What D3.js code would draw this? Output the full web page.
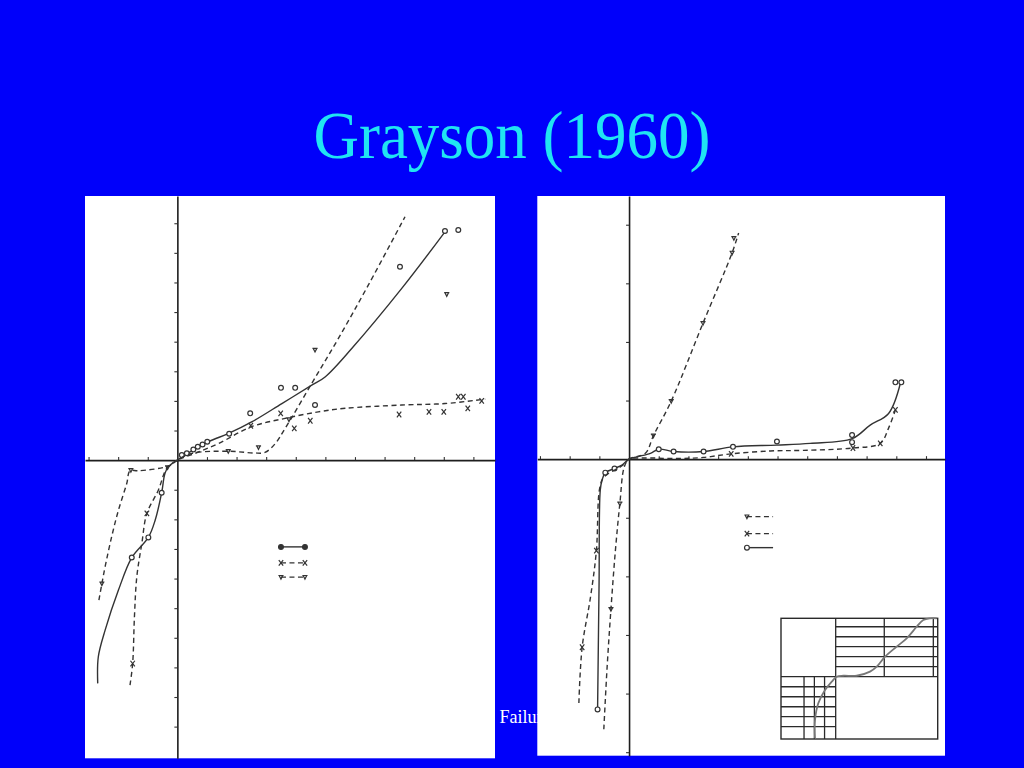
<!DOCTYPE html>
<html><head><meta charset="utf-8">
<script src="https://cdn.jsdelivr.net/npm/d3@7/dist/d3.min.js"></script>
<style>html,body{margin:0;padding:0;background:#0000fa;}svg{display:block;}</style>
</head><body>
<script>
// ---------- DATA (axis units: one tick = one unit) ----------
const title = "Grayson (1960)";
const footText = "Failure";

// Panel 1
const p1XTicks = [-3,-2,-1,1,2,3,4,5,6,7,8,9,10];
const p1YTicks = [-9,-8,-7,-6,-5,-4,-3,-2,-1,1,2,3,4,5,6,7,8];
const p1Solid = [[-2.69,-7.54],[-2.67,-6.64],[-2.44,-5.74],[-1.99,-4.39],[-1.54,-3.29],[-0.98,-2.61],[-0.75,-2.03],[-0.53,-1.10],[-0.42,-0.45],[-0.30,-0.22],[0,0],[0.3,0.2],[1.05,0.62],[1.73,0.9],[2.51,1.29],[3.53,1.91],[4.54,2.53],[4.99,2.81],[5.89,3.77],[7.58,5.80],[9.04,7.71]];
const p1Circles = [[0.15,0.17],[0.32,0.23],[0.54,0.36],[0.69,0.45],[0.85,0.53],[1.01,0.62],[1.75,0.89],[2.46,1.58],[3.50,2.44],[3.98,2.44],[4.65,1.86],[7.52,6.53],[9.04,7.74],[9.49,7.77],[-0.53,-1.10],[-0.98,-2.61],[-1.54,-3.29]];
const p1XDash = [[-1.60,-7.60],[-1.51,-6.87],[-1.45,-5.29],[-1.37,-3.94],[-1.20,-2.81],[-1.03,-1.80],[-0.64,-1.01],[-0.36,-0.28],[0,0],[0.6,0.23],[1.39,0.56],[2.51,1.13],[3.64,1.41],[4.76,1.63],[5.67,1.75],[7.58,1.86],[9.04,1.91],[10.4,2.06]];
const p1XMarks = [[2.48,1.16],[3.49,1.58],[3.95,1.07],[4.49,1.33],[7.49,1.54],[8.50,1.63],[9.00,1.63],[9.49,2.14],[9.66,2.14],[9.81,1.75],[10.28,2.00],[-1.03,-1.80],[-1.51,-6.87]];
const p1VDash = [[-2.65,-4.73],[-2.55,-4.17],[-2.44,-3.60],[-2.22,-2.59],[-1.99,-1.69],[-1.71,-0.79],[-1.60,-0.36],[-1.32,-0.36],[-0.30,-0.20],[0,0],[0.49,0.23],[1.72,0.30],[2.6,0.24],[2.96,0.26],[3.30,0.55],[3.64,1.07],[4.54,2.59],[5.44,4.11],[6.45,5.91],[7.69,8.22]];
const p1VMarks = [[1.72,0.30],[2.74,0.43],[3.77,1.37],[4.65,3.72],[9.10,5.60],[-1.57,-0.34],[-0.33,-0.25],[-2.55,-4.17]];

// Panel 2
const p2XTicks = [-3,-2,-1,1,2,3,4,5,6,7,8,9,10];
const p2YTicks = [-5,-4,-3,-2,-1,1,2,3,4];
const p2VDash = [[-0.85,-4.61],[-0.74,-3.56],[-0.61,-2.56],[-0.46,-1.56],[-0.31,-0.76],[-0.16,-0.13],[0,0],[0.55,0.1],[0.82,0.40],[1.42,0.99],[2.49,2.32],[3.47,3.52],[3.69,3.86]];
const p2VMarks = [[0.82,0.40],[1.42,0.99],[2.49,2.32],[3.47,3.52],[3.53,3.77],[-0.31,-0.76],[-0.61,-2.56]];
const p2Solid = [[-1.06,-4.27],[-1.01,-2.13],[-0.97,-0.53],[-0.91,-0.36],[-0.80,-0.23],[-0.49,-0.16],[-0.24,-0.10],[0,0],[0.27,0.04],[0.72,0.10],[1.00,0.17],[1.50,0.13],[2.51,0.13],[3.50,0.21],[4.98,0.24],[6.10,0.27],[7.51,0.35],[8.12,0.58],[8.74,0.78],[9.14,1.30]];
const p2Circles = [[1.00,0.17],[1.50,0.13],[2.51,0.13],[3.50,0.21],[4.98,0.30],[7.51,0.41],[7.51,0.29],[8.97,1.31],[9.17,1.31],[-0.49,-0.16],[-0.80,-0.23],[-1.06,-4.27]];
const p2XDash = [[-1.69,-4.16],[-1.58,-3.21],[-1.30,-2.36],[-1.10,-1.56],[-0.99,-0.50],[-0.85,-0.31],[-0.2,-0.1],[0,0],[0.5,0.02],[1.62,0.01],[2.51,0.03],[3.44,0.09],[4.76,0.14],[5.88,0.15],[7.54,0.19],[8.46,0.27],[8.74,0.53],[8.97,0.84]];
const p2XMarks = [[3.44,0.09],[7.54,0.19],[8.46,0.27],[8.97,0.84],[-1.10,-1.56],[-1.58,-3.21]];

// Inset (normalized 0..1)
const insetCurve = [[0.217,0.006],[0.217,0.157],[0.238,0.296],[0.281,0.406],[0.324,0.475],[0.355,0.516],[0.398,0.524],[0.483,0.524],[0.568,0.558],[0.611,0.599],[0.664,0.682],[0.738,0.765],[0.802,0.834],[0.866,0.930],[0.908,0.986],[0.951,1.0],[0.994,1.0]];
const insetMidX = 0.349, insetMidY = 0.516;
const insetTRh = [0.93,0.847,0.765,0.682,0.599];
const insetTRv = [0.659,0.972];
const insetBLh = [0.433,0.35,0.267,0.185,0.102];
const insetBLv = [0.147,0.213,0.278];

// ---------- DRAW ----------
const W=1024,H=768;
const svg=d3.select("body").append("svg").attr("width",W).attr("height",H);
svg.append("rect").attr("width",W).attr("height",H).attr("fill","#0000fa");

svg.append("text").attr("x",512).attr("y",0)
  .attr("transform","translate(0,158) scale(1,1.06)")
  .attr("text-anchor","middle").attr("font-family","'Liberation Serif','Times New Roman',serif")
  .attr("font-size",63).attr("fill","#20e4f2").text(title);

svg.append("text").attr("x",499.5).attr("y",723)
  .attr("font-family","'Liberation Serif','Times New Roman',serif")
  .attr("font-size",18).attr("fill","#ffffff").text(footText);

const INK="#333333";
const line=d3.line().curve(d3.curveCatmullRom.alpha(0.5));

function panel(box, xd, yd, xt, yt){
  const g=svg.append("g");
  g.append("rect").attr("x",box.x0).attr("y",box.y0).attr("width",box.x1-box.x0).attr("height",box.y1-box.y0).attr("fill","#ffffff");
  const x=d3.scaleLinear().domain(xd).range([box.x0,box.x1]);
  const y=d3.scaleLinear().domain(yd).range([box.y1,box.y0]);
  g.append("g").attr("transform",`translate(0,${y(0)})`)
    .call(d3.axisTop(x).tickValues(xt).tickSize(3).tickSizeOuter(0).tickFormat(""));
  g.append("g").attr("transform",`translate(${x(0)},0)`)
    .call(d3.axisLeft(y).tickValues(yt).tickSize(3).tickSizeOuter(0).tickFormat(""));
  g.selectAll(".domain").attr("stroke","#1e1e1e").attr("stroke-width",1.6);
  g.selectAll(".tick line").attr("stroke","#333").attr("stroke-width",1.1);
  return {g,x,y};
}

function path(P,data,dash){
  P.g.append("path").attr("d",line(data.map(d=>[P.x(d[0]),P.y(d[1])])))
    .attr("fill","none").attr("stroke",INK).attr("stroke-width",1.4)
    .attr("stroke-dasharray",dash?"5,3.5":null);
}
function circles(P,data,filled){
  P.g.selectAll(null).data(data).enter().append("circle")
    .attr("cx",d=>P.x(d[0])).attr("cy",d=>P.y(d[1])).attr("r",2.4)
    .attr("fill",filled?INK:"#fff").attr("stroke",INK).attr("stroke-width",1.2);
}
function xmarks(P,data){
  P.g.selectAll(null).data(data).enter().append("path")
    .attr("d",d=>{const cx=P.x(d[0]),cy=P.y(d[1]);return `M${cx-2.2},${cy-2.8}L${cx+2.2},${cy+2.8}M${cx+2.2},${cy-2.8}L${cx-2.2},${cy+2.8}`;})
    .attr("fill","none").attr("stroke",INK).attr("stroke-width",1.2);
}
function vmarks(P,data){
  P.g.selectAll(null).data(data).enter().append("path")
    .attr("d",d=>{const cx=P.x(d[0]),cy=P.y(d[1]);return `M${cx-2.6},${cy-1.6}L${cx+2.6},${cy-1.6}M${cx-1.8},${cy-1.6}L${cx},${cy+2}L${cx+1.8},${cy-1.6}`;})
    .attr("fill","none").attr("stroke",INK).attr("stroke-width",1.2);
}

// Panel 1
const P1=panel({x0:85,x1:495,y0:196,y1:758.3},[-3.12,10.73],[-10.07,8.92],p1XTicks,p1YTicks);
path(P1,p1Solid,false); circles(P1,p1Circles,false);
path(P1,p1XDash,true); xmarks(P1,p1XMarks);
path(P1,p1VDash,true); vmarks(P1,p1VMarks);
const L1x=[3.50,4.31], L1y=[-2.93,-3.47,-3.95];
path(P1,[[L1x[0],L1y[0]],[L1x[1],L1y[0]]],false); circles(P1,[[L1x[0],L1y[0]],[L1x[1],L1y[0]]],true);
path(P1,[[L1x[0],L1y[1]],[L1x[1],L1y[1]]],true); xmarks(P1,[[L1x[0],L1y[1]],[L1x[1],L1y[1]]]);
path(P1,[[L1x[0],L1y[2]],[L1x[1],L1y[2]]],true); vmarks(P1,[[L1x[0],L1y[2]],[L1x[1],L1y[2]]]);

// Panel 2
const P2=panel({x0:537.3,x1:945,y0:196,y1:755.7},[-3.09,10.64],[-5.06,4.49],p2XTicks,p2YTicks);
path(P2,p2VDash,true); vmarks(P2,p2VMarks);
path(P2,p2Solid,false); circles(P2,p2Circles,false);
path(P2,p2XDash,true); xmarks(P2,p2XMarks);
const L2x=[3.97,4.85], L2y=[-0.98,-1.27,-1.51];
path(P2,[[L2x[0],L2y[0]],[L2x[1],L2y[0]]],true); vmarks(P2,[[L2x[0],L2y[0]]]);
path(P2,[[L2x[0],L2y[1]],[L2x[1],L2y[1]]],true); xmarks(P2,[[L2x[0],L2y[1]]]);
path(P2,[[L2x[0],L2y[2]],[L2x[1],L2y[2]]],false); circles(P2,[[L2x[0],L2y[2]]],false);

// Inset
const ig=svg.append("g");
const ix=d3.scaleLinear().domain([0,1]).range([781,937.7]);
const iy=d3.scaleLinear().domain([0,1]).range([739,618.3]);
const seg=(x1,y1,x2,y2)=>ig.append("line").attr("x1",ix(x1)).attr("y1",iy(y1)).attr("x2",ix(x2)).attr("y2",iy(y2)).attr("stroke","#2a2a2a").attr("stroke-width",1.3);
ig.append("rect").attr("x",ix(0)).attr("y",iy(1)).attr("width",ix(1)-ix(0)).attr("height",iy(0)-iy(1)).attr("fill","#fff").attr("stroke","#2a2a2a").attr("stroke-width",1.4);
seg(insetMidX,0,insetMidX,1); seg(0,insetMidY,1,insetMidY);
insetTRh.forEach(h=>seg(insetMidX,h,1,h));
insetTRv.forEach(v=>seg(v,insetMidY,v,1));
insetBLh.forEach(h=>seg(0,h,insetMidX,h));
insetBLv.forEach(v=>seg(v,0,v,insetMidY));
ig.append("path").attr("d",line(insetCurve.map(d=>[ix(d[0]),iy(d[1])])))
  .attr("fill","none").attr("stroke","#777").attr("stroke-width",1.8);
</script>
</body></html>
